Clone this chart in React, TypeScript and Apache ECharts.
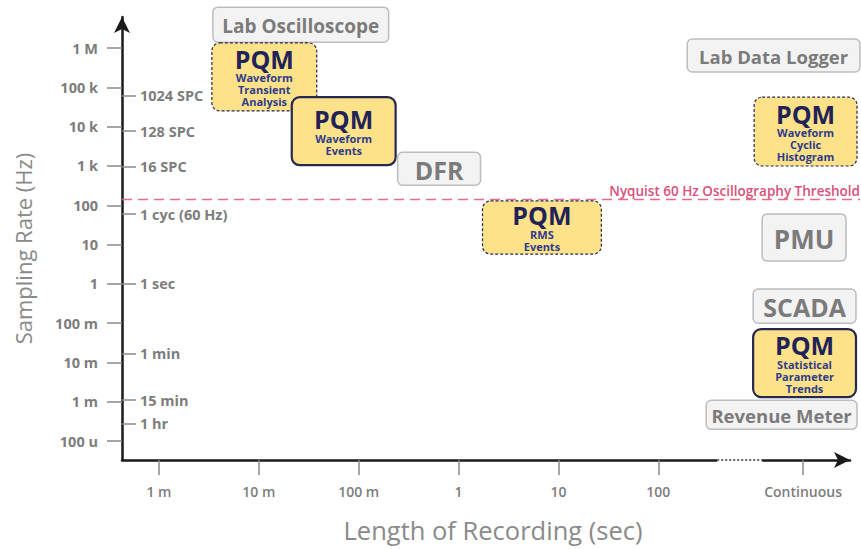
import { useEffect, useRef } from "react";
import * as echarts from "echarts";

// Axis extents in decades (log10 units)
const X_MIN = -3.37;
const X_MAX = 3.92;
const Y_MIN = -4.48;
const Y_MAX = 6.79;

// Length of recording (log10 seconds) ticks
const xTickDecades = [-3, -2, -1, 0, 1, 2, 3.45];
const xTickLabels = ["1 m", "10 m", "100 m", "1", "10", "100", "Continuous"];
const xAxisBreak = [2.59, 3.04];

// Sampling rate (log10 Hz) ticks
const yTickDecades = [-4, -3, -2, -1, 0, 1, 2, 3, 4, 5, 6];
const yTickLabels = ["100 u", "1 m", "10 m", "100 m", "1", "10", "100", "1 k", "10 k", "100 k", "1 M"];

// Secondary sampling-rate marks (Hz)
const rateMarksHz = [61440, 7680, 960, 60, 1, 1 / 60, 1 / 900, 1 / 3600];
const rateMarkLabels = ["1024 SPC", "128 SPC", "16 SPC", "1 cyc (60 Hz)", "1 sec", "1 min", "15 min", "1 hr"];

// Nyquist threshold (Hz) and the decade where its line ends
const nyquistHz = 140;
const nyquistEnd = 4.02;
const nyquistLabel = "Nyquist 60 Hz Oscillography Threshold";

// Instrument boxes: extents in decades
const boxTitles = ["Lab Oscilloscope", "PQM", "PQM", "DFR", "Lab Data Logger", "PQM", "PQM", "PMU", "SCADA", "PQM", "Revenue Meter"];
const boxSubtitles = [
  [],
  ["Waveform", "Transient", "Analysis"],
  ["Waveform", "Events"],
  [],
  [],
  ["Waveform", "Cyclic", "Histogram"],
  ["RMS", "Events"],
  [],
  [],
  ["Statistical", "Parameter", "Trends"],
  [],
];
const boxKinds = ["gray", "pqmDash", "pqmSolid", "gray", "gray", "pqmDash", "pqmDash", "gray", "gray", "pqmSolid", "gray"];
const boxXFrom = [-2.46, -2.47, -1.67, -0.61, 2.29, 2.96, 0.24, 3.04, 2.95, 2.95, 2.48];
const boxXTo = [-0.70, -1.42, -0.63, 0.22, 4.02, 3.99, 1.43, 3.88, 3.98, 3.98, 3.99];
const boxYFrom = [6.15, 4.40, 3.02, 2.51, 5.39, 3.00, 0.76, 0.58, -1.00, -2.88, -3.70];
const boxYTo = [7.04, 6.13, 4.75, 3.35, 6.23, 4.75, 2.11, 1.78, -0.13, -1.15, -2.96];

const FONT = '"Open Sans", "Noto Sans", sans-serif';
const grayFontSize: Record<string, number> = {
  "Lab Oscilloscope": 19,
  "Lab Data Logger": 18.5,
  "Revenue Meter": 18.5,
  DFR: 25,
  PMU: 26,
  SCADA: 25,
};

export default function App() {
  const ref = useRef<HTMLDivElement>(null);

  useEffect(() => {
    if (!ref.current) return;
    const chart = echarts.init(ref.current, null, { renderer: "svg" });

    const boxData = boxTitles.map((_, i) => [boxXFrom[i], boxXTo[i], boxYFrom[i], boxYTo[i], i]);
    const nyq = Math.log10(nyquistHz);
    const labelColor = "#7d7d7d";
    const tickFont = { fontFamily: FONT, fontSize: 14.5, fontWeight: "bold" as const, color: labelColor };

    const option: any = {
      animation: false,
      backgroundColor: "#ffffff",
      grid: { left: 122, right: 11, top: 17, bottom: 89 },
      xAxis: {
        type: "value",
        min: X_MIN,
        max: X_MAX,
        name: "Length of Recording (sec)",
        nameLocation: "middle",
        nameGap: 57,
        nameTextStyle: { fontFamily: FONT, fontSize: 25.5, color: "#8a8a8a", padding: [0, 0, 0, 14] },
        axisLine: {
          show: true,
          onZero: false,
          symbol: ["none", "arrow"],
          symbolSize: [12, 16],
          lineStyle: { color: "#1a1a1a", width: 2.5 },
        },
        axisTick: {
          show: true,
          length: 15,
          customValues: xTickDecades,
          lineStyle: { color: "#8a8a8a", width: 1.5 },
        },
        axisLabel: {
          customValues: xTickDecades,
          margin: 24,
          ...tickFont,
          fontSize: 14,
          fontWeight: 600,
          formatter: (v: number) => {
            const i = xTickDecades.findIndex((d) => Math.abs(d - v) < 1e-6);
            return i >= 0 ? xTickLabels[i] : "";
          },
        },
        splitLine: { show: false },
      },
      yAxis: [
        {
          type: "value",
          min: Y_MIN,
          max: Y_MAX,
          name: "Sampling Rate (Hz)",
          nameLocation: "middle",
          nameRotate: 90,
          nameGap: 88,
          nameTextStyle: { fontFamily: FONT, fontSize: 22, color: "#8a8a8a", padding: [0, 20, 0, 0] },
          axisLine: {
            show: true,
            onZero: false,
            symbol: ["none", "arrow"],
            symbolSize: [12, 16],
            lineStyle: { color: "#1a1a1a", width: 2.5 },
          },
          axisTick: {
            show: true,
            length: 15,
            customValues: yTickDecades,
            lineStyle: { color: "#8a8a8a", width: 1.5 },
          },
          axisLabel: {
            customValues: yTickDecades,
            margin: 24,
            ...tickFont,
            formatter: (v: number) => {
              const i = yTickDecades.findIndex((d) => Math.abs(d - v) < 1e-6);
              return i >= 0 ? yTickLabels[i] : "";
            },
          },
          splitLine: { show: false },
        },
        {
          type: "value",
          position: "left",
          offset: 0,
          min: Y_MIN,
          max: Y_MAX,
          axisLine: { show: false, onZero: false },
          axisTick: {
            show: true,
            inside: true,
            length: 14,
            customValues: rateMarksHz.map((h) => Math.log10(h)),
            lineStyle: { color: "#8a8a8a", width: 1.5 },
          },
          axisLabel: {
            inside: true,
            customValues: rateMarksHz.map((h) => Math.log10(h)),
            margin: 18,
            ...tickFont,
            formatter: (v: number) => {
              const i = rateMarksHz.findIndex((h) => Math.abs(Math.log10(h) - v) < 1e-6);
              return i >= 0 ? rateMarkLabels[i] : "";
            },
          },
          splitLine: { show: false },
        },
      ],
      series: [
        {
          type: "custom",
          xAxisIndex: 0,
          yAxisIndex: 0,
          clip: false,
          z: 3,
          data: [[X_MIN, nyquistEnd, nyq]],
          renderItem: (params: any, api: any) => {
            const a = api.coord([api.value(0), api.value(2)]);
            const b = api.coord([api.value(1), api.value(2)]);
            return {
              type: "group",
              children: [
                {
                  type: "line",
                  shape: { x1: a[0], y1: a[1], x2: b[0], y2: b[1] },
                  style: { stroke: "#e86a8a", lineWidth: 1.6, lineDash: [10, 6] },
                },
                {
                  type: "text",
                  style: {
                    text: nyquistLabel,
                    x: b[0],
                    y: b[1] - 2,
                    align: "right",
                    verticalAlign: "bottom",
                    fill: "#d8507a",
                    fontFamily: FONT,
                    fontSize: 13.5,
                    fontWeight: 600,
                  },
                },
              ],
            };
          },
        },
        {
          type: "custom",
          xAxisIndex: 0,
          yAxisIndex: 0,
          clip: false,
          z: 4,
          encode: { x: [0, 1], y: [2, 3] },
          data: boxData,
          renderItem: (params: any, api: any) => {
            const i = api.value(4);
            const tl = api.coord([api.value(0), api.value(3)]);
            const br = api.coord([api.value(1), api.value(2)]);
            const x = tl[0];
            const y = tl[1];
            const w = br[0] - tl[0];
            const h = br[1] - tl[1];
            const kind = boxKinds[i];
            const title = boxTitles[i];
            const cx = x + w / 2;
            const cy = y + h / 2;
            if (kind === "gray") {
              return {
                type: "group",
                children: [
                  {
                    type: "rect",
                    shape: { x, y, width: w, height: h, r: 5 },
                    style: { fill: "#f3f3f3", stroke: "#bdbdbd", lineWidth: 1.5 },
                  },
                  {
                    type: "text",
                    style: {
                      text: title,
                      x: cx,
                      y: cy + 1,
                      align: "center",
                      verticalAlign: "middle",
                      fill: "#7b7b7b",
                      fontFamily: FONT,
                      fontWeight: "bold",
                      fontSize: grayFontSize[title] || 18,
                    },
                  },
                ],
              };
            }
            const subs = boxSubtitles[i];
            const txt = "{p|" + title + "}\n" + subs.map((s: string) => "{s|" + s + "}").join("\n");
            return {
              type: "group",
              children: [
                {
                  type: "rect",
                  shape: { x, y, width: w, height: h, r: 8 },
                  style: {
                    fill: "#fde28a",
                    stroke: "#26294f",
                    lineWidth: kind === "pqmSolid" ? 2.2 : 1.2,
                    lineDash: kind === "pqmSolid" ? null : [3, 2],
                  },
                },
                {
                  type: "text",
                  style: {
                    text: txt,
                    x: cx,
                    y: cy,
                    align: "center",
                    verticalAlign: "middle",
                    rich: {
                      p: {
                        fontFamily: FONT,
                        fontWeight: "bold",
                        fontSize: 25,
                        lineHeight: 26,
                        fill: "#1f2358",
                        align: "center",
                      },
                      s: {
                        fontFamily: FONT,
                        fontWeight: "bold",
                        fontSize: 11,
                        lineHeight: 12,
                        fill: "#2d3b8c",
                        align: "center",
                      },
                    },
                  },
                },
              ],
            };
          },
          markLine: {
            silent: true,
            symbol: ["none", "none"],
            animation: false,
            data: [
              [
                {
                  coord: [xAxisBreak[0], Y_MIN],
                  lineStyle: { color: "#ffffff", width: 5, type: "solid" },
                  label: { show: false },
                },
                { coord: [xAxisBreak[1], Y_MIN] },
              ],
              [
                {
                  coord: [xAxisBreak[0], Y_MIN],
                  lineStyle: { color: "#333333", width: 1.5, type: [2, 2] },
                  label: { show: false },
                },
                { coord: [xAxisBreak[1], Y_MIN] },
              ],
            ],
          },
        },
      ],
    };

    chart.setOption(option);
    return () => chart.dispose();
  }, []);

  return (
    <div
      ref={ref}
      style={{ position: "absolute", left: 0, top: 0, width: 861, height: 549, background: "#fff" }}
    />
  );
}
